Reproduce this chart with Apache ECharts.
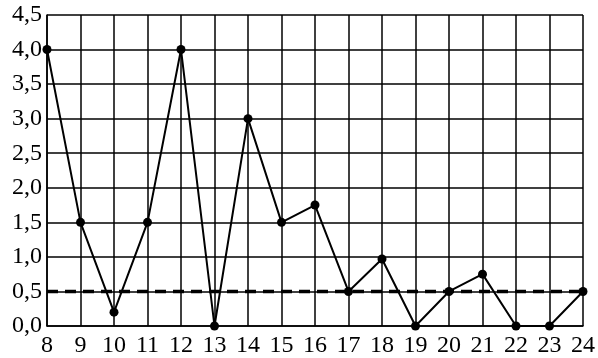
<!DOCTYPE html>
<html>
<head>
<meta charset="utf-8">
<script src="https://cdn.jsdelivr.net/npm/echarts@6/dist/echarts.min.js"></script>
<style>html,body{margin:0;padding:0;background:#fff}#c{width:598px;height:358px}</style>
</head>
<body>
<div id="c"></div>
<script>
const hours = [8,9,10,11,12,13,14,15,16,17,18,19,20,21,22,23,24];
const values = [4.0,1.5,0.2,1.5,4.0,0.0,3.0,1.5,1.75,0.5,0.97,0.0,0.5,0.75,0.0,0.0,0.5];
const thresholdValue = 0.5;
const yTicks = [0,0.5,1,1.5,2,2.5,3,3.5,4,4.5];

const chart = echarts.init(document.getElementById('c'), null, {renderer:'canvas'});
const font = '"Liberation Serif", "DejaVu Serif", serif';
chart.setOption({
  animation:false,
  backgroundColor:'#fff',
  grid:{left:47,right:15,top:15,bottom:32,containLabel:false},
  xAxis:{
    type:'value',min:hours[0],max:hours[hours.length-1],interval:1,
    axisLine:{show:true,lineStyle:{color:'#000',width:1.5}},
    axisTick:{show:false},
    splitLine:{show:true,lineStyle:{color:'#000',width:1.5}},
    axisLabel:{color:'#000',fontFamily:font,fontSize:24,margin:8,showMinLabel:true,showMaxLabel:true}
  },
  yAxis:{
    type:'value',min:yTicks[0],max:yTicks[yTicks.length-1],interval:0.5,
    axisLine:{show:true,lineStyle:{color:'#000',width:1.5}},
    axisTick:{show:false},
    splitLine:{show:true,lineStyle:{color:'#000',width:1.5}},
    axisLabel:{color:'#000',fontFamily:font,fontSize:24,margin:5,
      formatter:v=>v.toFixed(1).replace('.',',')}
  },
  series:[
    {
      type:'line',
      data:[[hours[0],thresholdValue],[hours[hours.length-1],thresholdValue]],
      symbol:'none',
      lineStyle:{color:'#000',width:3.5,type:[11,7]},
      z:2
    },
    {
      type:'line',
      data:hours.map((h,i)=>[h,values[i]]),
      symbol:'circle',symbolSize:9,
      itemStyle:{color:'#000'},
      lineStyle:{color:'#000',width:2},
      z:3
    }
  ]
});
</script>
</body>
</html>
